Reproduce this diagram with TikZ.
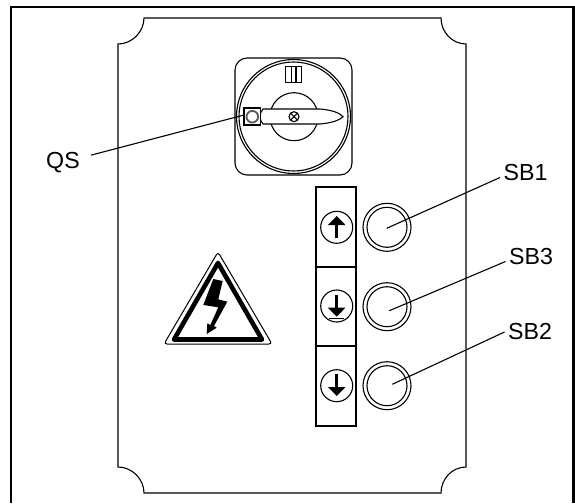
\documentclass[tikz,border=0pt]{standalone}
\usepackage{fontspec}
\setmainfont{Liberation Sans}
\usetikzlibrary{arrows.meta, positioning}

\tikzset{
	label text/.style={inner sep=3pt, font=\fontsize{23.2}{26}\selectfont},
	leader/.style={line width=1.1pt},
	thin line/.style={line width=1.1pt},
	key box/.style={line width=1.8pt},
	key arrow/.style={line width=3pt, -{Triangle[length=9pt, width=17pt]}}
}

\begin{document}
\begin{tikzpicture}[x=1pt, y=-1pt, thin line]
	\useasboundingbox (0,0) rectangle (575,503);

	\draw[line width=2.5pt] (11,503) -- (11,7) -- (573.7,7) -- (573.7,503);

	\draw (144,18) -- (441,18) .. controls (441,32) and (452,44) .. (466,44)
		-- (466,467) .. controls (452,467) and (441,479) .. (441,493)
		-- (144,493) .. controls (144,479) and (132,467) .. (118,467)
		-- (118,44) .. controls (132,44) and (144,32) .. (144,18) -- cycle;

	\draw[rounded corners=12pt] (235,58) rectangle (352,175);
	\draw (293.5,116.5) circle (57);
	\draw (293.5,116.5) circle (54.5);
	\draw (285.7,66.7) rectangle (301.7,82.3);
	\draw (291.7,67) -- (291.7,82);
	\draw (296,67) -- (296,82);

	\draw (294,116.7) circle (24);
	\draw[fill=white] (263,109) -- (320,109) .. controls (332,110) and (340,113) .. (343,116.7)
		.. controls (340,120) and (332,123) .. (320,124) -- (263,124)
		.. controls (261,122) and (260,119) .. (260,116.7) .. controls (260,114) and (261,111) .. (263,109) -- cycle;
	\draw (294,116.7) circle (5);
	\draw (290.5,113.2) -- (297.5,120.2);
	\draw (290.5,120.2) -- (297.5,113.2);
	\draw[fill=white] (244,108) rectangle (260.7,125);
	\draw[line width=1.8pt, black!65] (252.3,116.7) circle (5.8);

	\draw[line width=1pt, rounded corners=3pt] (218,252) -- (272,344) -- (164,344) -- cycle;
	\draw[line width=4.6pt, line join=round] (218,263) -- (262,339.5) -- (174,339.5) -- cycle;
	\fill (213.3,279) -- (222.7,281) -- (218.3,299.3) -- (227.3,301.7) -- (214,326) -- (216.7,327.7)
		-- (206.7,334) -- (207.3,323.3) -- (210.3,325) -- (218.3,307.3) -- (203.3,305) -- cycle;

	\draw[key box] (316,187) rectangle (356,267);
	\draw[key box] (316,267) rectangle (356,346);
	\draw[key box] (316,346) rectangle (356,426);

	\draw (336.7,227.3) circle (16);
	\draw[key arrow] (336.7,238) -- (336.7,216);
	\draw (336.7,306) circle (16);
	\draw[key arrow] (336.7,295) -- (336.7,316.7);
	\draw[line width=1.4pt] (329,318.5) -- (344.4,318.5);
	\draw (336.7,385.7) circle (16);
	\draw[key arrow] (336.7,374) -- (336.7,396);

	\draw (387,227.3) circle (24);
	\draw (387,227.3) circle (20);
	\draw (387,306.7) circle (24);
	\draw (387,306.7) circle (20);
	\draw (387,385.7) circle (24);
	\draw (387,385.7) circle (20);

	\node[label text] (QS) at (63,163) {QS};
	\node[label text] (SB1) at (525.5,173) {SB1};
	\node[label text] (SB3) at (531,257) {SB3};
	\node[label text] (SB2) at (530,332) {SB2};

	\coordinate (switch) at (244,115);
	\coordinate (lamp1) at (386.7,228.3);
	\coordinate (lamp3) at (389.3,310.7);
	\coordinate (lamp2) at (392.3,384.3);

	\draw[leader, shorten <=8pt] (QS.16) -- (switch);
	\draw[leader] (SB1.190) -- (lamp1);
	\draw[leader] (SB3.190) -- (lamp3);
	\draw[leader] (SB2.180) -- (lamp2);
\end{tikzpicture}
\end{document}
